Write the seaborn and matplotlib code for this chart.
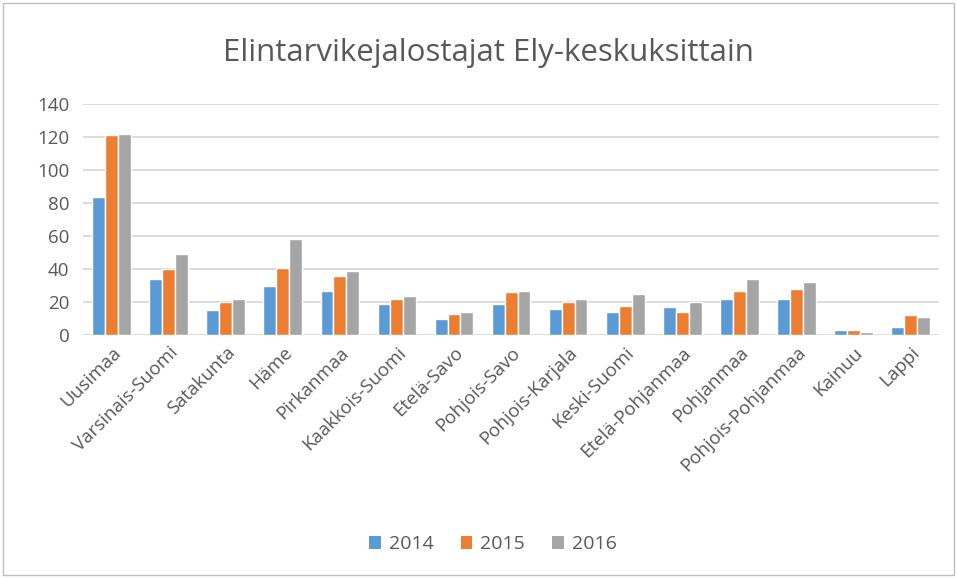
import numpy as np
import pandas as pd
import seaborn as sns
from matplotlib import pyplot as plt
from matplotlib.patches import Patch, Rectangle

# values
regions = ['Uusimaa', 'Varsinais-Suomi', 'Satakunta', 'Häme', 'Pirkanmaa',
           'Kaakkois-Suomi', 'Etelä-Savo', 'Pohjois-Savo', 'Pohjois-Karjala',
           'Keski-Suomi', 'Etelä-Pohjanmaa', 'Pohjanmaa', 'Pohjois-Pohjanmaa',
           'Kainuu', 'Lappi']
years = ['2014', '2015', '2016']
v2014 = [84, 34, 15, 30, 27, 19, 10, 19, 16, 14, 17, 22, 22, 3, 5]
v2015 = [121, 40, 20, 41, 36, 22, 13, 26, 20, 18, 14, 27, 28, 3, 12]
v2016 = [122, 49, 22, 58, 39, 24, 14, 27, 22, 25, 20, 34, 32, 2, 11]
colors = ['#5B9BD5', '#ED7D31', '#A5A5A5']

df = pd.DataFrame({
    'region': regions * 3,
    'year': np.repeat(years, len(regions)),
    'count': v2014 + v2015 + v2016,
})

sns.set_theme(style='white')
plt.rcParams['font.family'] = ['Open Sans', 'DejaVu Sans']
text_col = '#595959'

fig = plt.figure(figsize=(9.57, 5.78), dpi=100)
ax = fig.add_axes([0.087, 0.42, 0.894, 0.40])

sns.barplot(data=df, x='region', y='count', hue='year', palette=colors,
            width=0.68, edgecolor='white', linewidth=1, saturation=1,
            ax=ax, legend=False)

ax.set_ylim(0, 140)
ax.set_yticks(range(0, 141, 20))
ax.set_xlim(-0.5, len(regions) - 0.5)
ax.yaxis.grid(True, color='#D9D9D9', linewidth=1.3)
ax.set_axisbelow(True)
for s in ax.spines.values():
    s.set_visible(False)
ax.set_xlabel('')
ax.set_ylabel('')
ax.tick_params(axis='both', length=0, colors=text_col, labelsize=13.5)
ax.tick_params(axis='y', pad=10)
plt.setp(ax.get_xticklabels(), rotation=45, ha='right', rotation_mode='anchor')
ax.tick_params(axis='x', pad=6)

fig.suptitle('Elintarvikejalostajat Ely-keskuksittain', x=0.51, y=0.935,
             fontsize=22.5, color=text_col)

handles = [Patch(facecolor=c, edgecolor='none') for c in colors]
fig.legend(handles, years, loc='center', bbox_to_anchor=(0.515, 0.058), ncol=3,
           frameon=False, fontsize=14, labelcolor=text_col, handlelength=0.6,
           handleheight=0.6, handletextpad=0.4, columnspacing=1.4)

fig.patches.append(Rectangle((0.003, 0.005), 0.994, 0.99, transform=fig.transFigure,
                             fill=False, edgecolor='#BFBFBF', linewidth=1))

fig.savefig('out.png', dpi=100)
